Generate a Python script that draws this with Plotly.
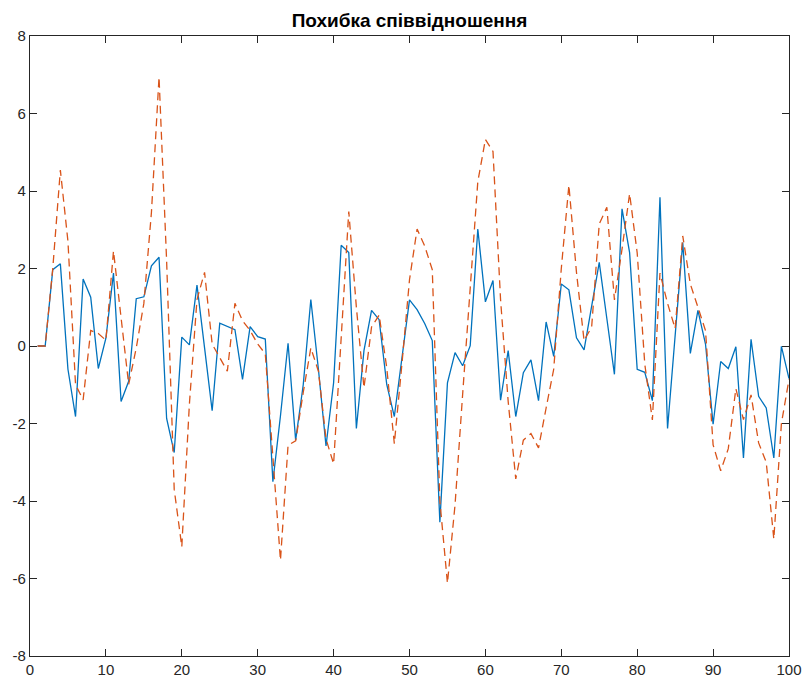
import plotly.graph_objects as go

x_vals = list(range(1, 101))

measured = [
    0, 0, 1.97, 2.12, -0.60, -1.82, 1.73, 1.26, -0.58, 0.2,
    1.88, -1.43, -0.91, 1.22, 1.27, 2.07, 2.29, -1.87, -2.75, 0.23,
    0.03, 1.57, -0.05, -1.67, 0.59, 0.5, 0.42, -0.86, 0.5, 0.24,
    0.18, -3.5, -1.8, 0.07, -2.43, -1.0, 1.2, -0.6, -2.58, -0.95,
    2.6, 2.41, -2.13, -0.12, 0.92, 0.68, -0.99, -1.82, -0.3, 1.19,
    0.94, 0.58, 0.14, -4.55, -0.95, -0.17, -0.51, 0.01, 3.02, 1.14,
    1.69, -1.4, -0.12, -1.82, -0.69, -0.36, -1.41, 0.62, -0.27, 1.6,
    1.45, 0.21, -0.1, 1.0, 2.16, 0.71, -0.73, 3.54, 2.41, -0.6,
    -0.68, -1.41, 3.84, -2.13, 0.3, 2.67, -0.19, 0.92, 0.05, -2.02,
    -0.4, -0.58, -0.02, -2.89, 0.17, -1.3, -1.6, -2.89, -0.01, -0.84,
]

estimated = [
    0, 0, 2.0, 4.54, 2.7, -1.0, -1.39, 0.4, 0.32, 0.15,
    2.45, 0.7, -0.99, -0.05, 1.1, 3.45, 6.94, 2.2, -3.7, -5.18,
    -1.5, 1.2, 1.9, 0.05, -0.3, -0.65, 1.1, 0.65, 0.4, 0.05,
    -0.2, -3.0, -5.53, -2.56, -2.45, -1.2, -0.05, -0.65, -2.4, -3.04,
    0.3, 3.47, 1.0, -1.08, 0.49, 0.8, -0.56, -2.52, -0.47, 1.71,
    3.02, 2.58, 1.97, -4.0, -6.12, -4.1, -1.25, 1.53, 4.24, 5.33,
    5.02, 1.19, -1.43, -3.43, -2.43, -2.26, -2.63, -1.6, -0.6, 2.0,
    4.15, 1.9, 0.14, 0.49, 3.15, 3.58, 1.19, 2.5, 3.93, 2.4,
    -0.47, -1.91, 1.88, 1.1, 0.45, 2.84, 1.6, 1.0, 0.4, -2.55,
    -3.22, -2.65, -1.1, -1.9, -1.26, -2.5, -3.0, -4.98, -2.0, -0.86,
]

x_ticks = [0, 10, 20, 30, 40, 50, 60, 70, 80, 90, 100]
x_tick_text = ["0", "10", "20", "30", "40", "50", "60", "70", "80", "90", "100"]
y_ticks = [-8, -6, -4, -2, 0, 2, 4, 6, 8]
y_tick_text = ["-8", "-6", "-4", "-2", "0", "2", "4", "6", "8"]

title_text = "Похибка співвідношення"

fig = go.Figure()
fig.add_trace(go.Scatter(x=x_vals, y=measured, mode="lines",
                         line=dict(color="#0072BD", width=1.3), showlegend=False))
fig.add_trace(go.Scatter(x=x_vals, y=estimated, mode="lines",
                         line=dict(color="#D95319", width=1.3, dash="8px,5px"),
                         showlegend=False))

axis_common = dict(
    showgrid=False, zeroline=False, showline=True, linecolor="#262626",
    linewidth=1.3, mirror="ticks", ticks="inside", ticklen=7, tickwidth=1.3,
    tickcolor="#262626", automargin=False,
    tickfont=dict(family="Liberation Sans, Arial", size=15, color="#262626"),
)

fig.update_xaxes(range=[0, 100], tickvals=x_ticks, ticktext=x_tick_text, **axis_common)
fig.update_yaxes(range=[-8, 8], tickvals=y_ticks, ticktext=y_tick_text, **axis_common)

fig.update_layout(
    width=805, height=683,
    margin=dict(l=30, r=16, t=36, b=27),
    paper_bgcolor="white", plot_bgcolor="white",
    title=dict(text="<b>" + title_text + "</b>", x=0.5087, xanchor="center",
               yref="container", y=1 - 20 / 683, yanchor="middle",
               font=dict(family="Liberation Sans, Arial", size=19, color="black")),
)

fig.write_html("out.html")
